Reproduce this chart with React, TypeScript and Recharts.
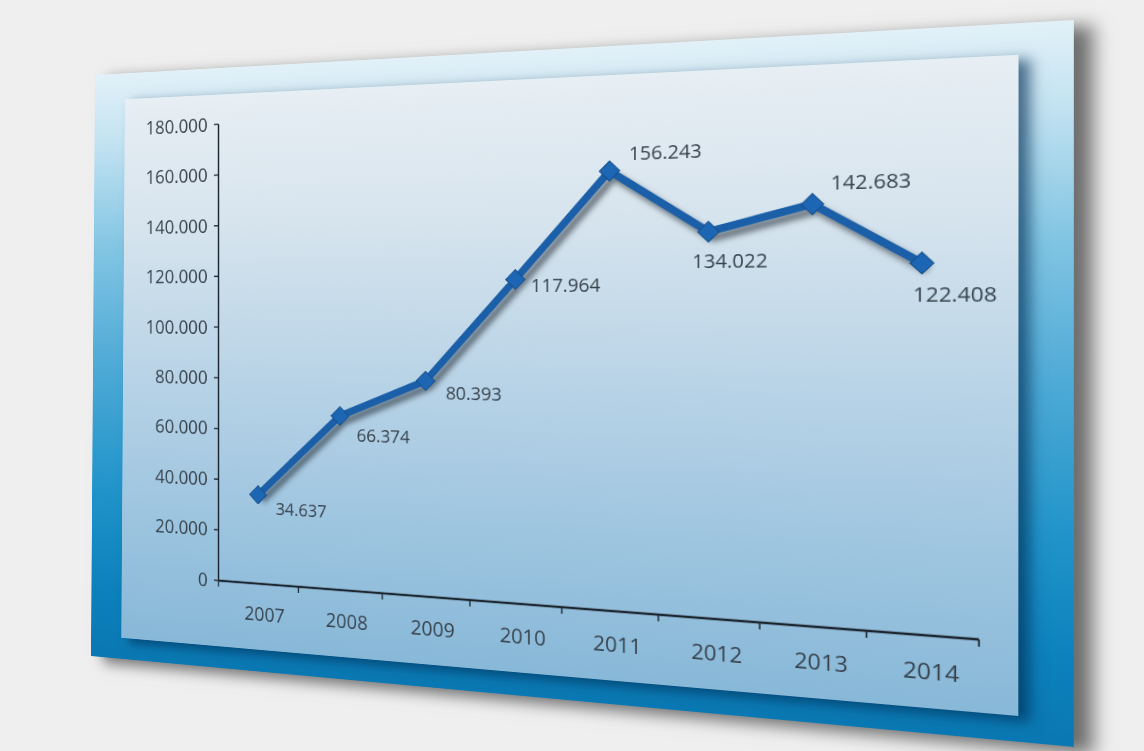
import React from 'react';
import { LineChart, Line, XAxis, YAxis, LabelList } from 'recharts';

// ---------- data ----------
const years = ['2007', '2008', '2009', '2010', '2011', '2012', '2013', '2014'];
const values = [34637, 66374, 80393, 117964, 156243, 134022, 142683, 122408];
const yTicks = [0, 20000, 40000, 60000, 80000, 100000, 120000, 140000, 160000, 180000];
const boundaryTicks = [-0.5, 0.5, 1.5, 2.5, 3.5, 4.5, 5.5, 6.5, 7.5];
const labelTicks = [0, 1, 2, 3, 4, 5, 6, 7];

const data = years.map((year, i) => ({ idx: i, year, value: values[i] }));

// ---------- style constants ----------
const FONT = "'Open Sans', 'Noto Sans', sans-serif";
const TEXT = '#36424c';
const LINE = '#1b5fa8';
// offsets of value labels relative to their point (flat space)
const LABEL_OFFSETS: [number, number][] = [
  [22, 14],
  [20, 21],
  [23, 12],
  [17, 6],
  [20, -18],
  [-16, 30],
  [17, -21],
  [-8, 30],
];

// frame layer (flat size and where its corners land: TL, TR, BR, BL)
const FW = 1050;
const FH = 700;
const FRAME_QUAD: [number, number][] = [[95, 75], [1074, 20], [1074, 747], [91, 656]];

// chart layer
const CW = 1050;
const CH = 700;
const M_TOP = 66;
const M_LEFT = 96;
const Y_AXIS_W = 70;
const M_RIGHT = 81;
const M_BOTTOM = 41;
const PLOT_L = M_LEFT + Y_AXIS_W;
const PLOT_T = M_TOP;
const PLOT_W = CW - PLOT_L - M_RIGHT;
const PLOT_H = CH - M_TOP - M_BOTTOM - 8 - 50;
const PLOT_QUAD: [number, number][] = [[218.5, 124.3], [979, 85.1], [979, 639.5], [218.5, 580.6]];

function quadMatrix(w: number, hgt: number, q: [number, number][]) {
  const [x0, y0] = q[0];
  const [x1, y1] = q[1];
  const [x2, y2] = q[2];
  const [x3, y3] = q[3];
  const dx1 = x1 - x2, dx2 = x3 - x2, sx = x0 - x1 + x2 - x3;
  const dy1 = y1 - y2, dy2 = y3 - y2, sy = y0 - y1 + y2 - y3;
  const det = dx1 * dy2 - dx2 * dy1;
  const g = (sx * dy2 - dx2 * sy) / det;
  const h = (dx1 * sy - sx * dy1) / det;
  const a = x1 - x0 + g * x1;
  const b = x3 - x0 + h * x3;
  const c = x0;
  const d = y1 - y0 + g * y1;
  const e = y3 - y0 + h * y3;
  const f = y0;
  const m = [a / w, d / w, 0, g / w, b / hgt, e / hgt, 0, h / hgt, 0, 0, 1, 0, c, f, 0, 1];
  return `matrix3d(${m.join(',')})`;
}

const fmt = (n: number) => String(n).replace(/\B(?=(\d{3})+(?!\d))/g, '.');

const Diamond = (props: any) => {
  const { cx, cy } = props;
  if (cx == null || cy == null) return null;
  return (
    <rect
      x={cx - 7.5}
      y={cy - 7.5}
      width={15}
      height={15}
      fill="#1d66b3"
      stroke="#174f8c"
      strokeWidth={1}
      transform={`rotate(45 ${cx} ${cy})`}
    />
  );
};

const ValueLabel = (props: any) => {
  const { x, y, value, index } = props;
  const off = LABEL_OFFSETS[index] || [15, 15];
  return (
    <text
      x={x + off[0]}
      y={y + off[1]}
      fill={TEXT}
      fontSize={20}
      fontFamily={FONT}
      textAnchor="start"
      dominantBaseline="central"
    >
      {fmt(value)}
    </text>
  );
};

export default function App() {
  return (
    <div
      style={{
        position: 'absolute',
        left: 0,
        top: 0,
        width: 1144,
        height: 751,
        background: '#efefef',
        overflow: 'hidden',
      }}
    >
      <style>{`.main-line { filter: drop-shadow(5px 6px 3px rgba(25,35,45,0.6)); }`}</style>
      {/* frame layer */}
      <div
        style={{
          position: 'absolute',
          left: 0,
          top: 0,
          width: FW,
          height: FH,
          transformOrigin: '0 0',
          transform: quadMatrix(FW, FH, FRAME_QUAD),
          background:
            'linear-gradient(180deg, #e2f1f8 0%, #c2e2f1 12%, #82c5e3 30%, #4eaad6 50%, #1f93c9 72%, #0c81bc 88%, #0a78b2 100%)',
          boxShadow: '16px 6px 16px rgba(0,0,0,0.55)',
        }}
      >
        <div
          style={{
            position: 'absolute',
            left: 40,
            top: 31,
            width: 962,
            height: 644,
            background:
              'linear-gradient(180deg, #e7eef4 0%, #d8e5ee 22%, #bad4e7 50%, #9cc4df 78%, #88b8d8 100%)',
            boxShadow: '10px 5px 12px rgba(0,45,85,0.65)',
          }}
        />
      </div>
      {/* chart layer */}
      <div
        style={{
          position: 'absolute',
          left: 0,
          top: 0,
          width: CW,
          height: CH,
          transformOrigin: '0 0',
          transform: `${quadMatrix(PLOT_W, PLOT_H, PLOT_QUAD)} translate(${-PLOT_L}px, ${-PLOT_T}px)`,
        }}
      >
        <LineChart
          width={CW}
          height={CH}
          data={data}
          margin={{ top: M_TOP, right: M_RIGHT, bottom: M_BOTTOM, left: M_LEFT }}
        >
          <XAxis
            xAxisId="grid"
            dataKey="idx"
            type="number"
            domain={[-0.5, 7.5]}
            ticks={boundaryTicks}
            tickFormatter={() => ''}
            tickSize={7}
            height={8}
            axisLine={{ stroke: '#1c2630', strokeWidth: 2.5 }}
            tickLine={{ stroke: '#1c2630', strokeWidth: 1.5 }}
            allowDataOverflow
          />
          <XAxis
            xAxisId="labels"
            dataKey="idx"
            type="number"
            domain={[-0.5, 7.5]}
            ticks={labelTicks}
            tickFormatter={(i: number) => years[i] ?? ''}
            axisLine={false}
            tickLine={false}
            tickSize={0}
            tickMargin={19}
            height={50}
            tick={{ fill: TEXT, fontSize: 22, fontFamily: FONT, dx: 8 }}
            allowDataOverflow
          />
          <YAxis
            domain={[0, 180000]}
            ticks={yTicks}
            tickFormatter={fmt}
            width={Y_AXIS_W}
            tickSize={6}
            tickMargin={8}
            axisLine={{ stroke: '#1c2630', strokeWidth: 2 }}
            tickLine={{ stroke: '#1c2630', strokeWidth: 1.5 }}
            tick={{ fill: TEXT, fontSize: 22, fontFamily: FONT }}
          />
          <Line
            xAxisId="grid"
            dataKey="value"
            stroke={LINE}
            strokeWidth={8}
            strokeLinejoin="round"
            className="main-line"
            dot={<Diamond />}
            activeDot={false}
            isAnimationActive={false}
          >
            <LabelList dataKey="value" content={<ValueLabel />} />
          </Line>
        </LineChart>
      </div>
    </div>
  );
}
